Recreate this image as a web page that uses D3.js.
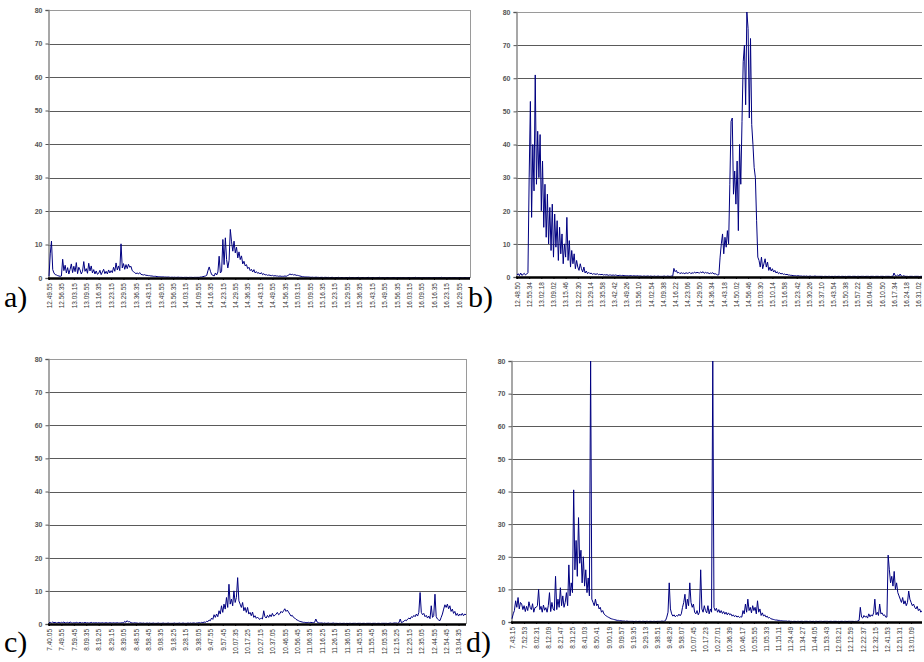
<!DOCTYPE html>
<html>
<head>
<meta charset="utf-8">
<script src="https://cdn.jsdelivr.net/npm/d3@7"></script>
<style>
  html, body { margin: 0; padding: 0; background: #fff; }
  svg { display: block; }
</style>
</head>
<body>
<svg id="chart" width="924" height="662"></svg>
<script>
// ---------------- DATA ----------------
const yTicks = [0, 10, 20, 30, 40, 50, 60, 70, 80];
const samplesPerLabel = 10;

const ticksA = ["12.49.55","12.56.35","13.03.15","13.09.55","13.16.35","13.23.15","13.29.55","13.36.35","13.43.15","13.49.55","13.56.35","14.03.15","14.09.55","14.16.35","14.23.15","14.29.55","14.36.35","14.43.15","14.49.55","14.56.35","15.03.15","15.09.55","15.16.35","15.23.15","15.29.55","15.36.35","15.43.15","15.49.55","15.56.35","16.03.15","16.09.55","16.16.35","16.23.15","16.29.55"];
const ticksB = ["12.48.50","12.55.34","13.02.18","13.09.02","13.15.46","13.22.30","13.29.14","13.35.58","13.42.42","13.49.26","13.56.10","14.02.54","14.09.38","14.16.22","14.23.06","14.29.50","14.36.34","14.43.18","14.50.02","14.56.46","15.03.30","15.10.14","15.16.58","15.23.42","15.30.26","15.37.10","15.43.54","15.50.38","15.57.22","16.04.06","16.10.50","16.17.34","16.24.18","16.31.02"];
const ticksC = ["7.40.05","7.49.55","7.59.45","8.09.35","8.19.25","8.29.15","8.39.05","8.48.55","8.58.45","9.08.35","9.18.25","9.28.15","9.38.05","9.47.55","9.57.45","10.07.35","10.17.25","10.27.15","10.37.05","10.46.55","10.56.45","11.06.35","11.16.25","11.26.15","11.36.05","11.45.55","11.55.45","12.05.35","12.15.25","12.25.15","12.35.05","12.44.55","12.54.45","13.04.35"];
const ticksD = ["7.43.15","7.52.53","8.02.31","8.12.09","8.21.47","8.31.25","8.41.03","8.50.41","9.00.19","9.09.57","9.19.35","9.29.13","9.38.51","9.48.29","9.58.07","10.07.45","10.17.23","10.27.01","10.36.39","10.46.17","10.55.55","11.05.33","11.15.11","11.24.49","11.34.27","11.44.05","11.53.43","12.03.21","12.12.59","12.22.37","12.32.15","12.41.53","12.51.31","13.01.09"];

// one row = one labelled interval (10 samples)
const seriesA = [
  0.5, 7.2, 11, 2.5, 1.5, 1.0, 0.9, 0.7, 0.6, 0.5,
  0.6, 5.6, 2.2, 3.8, 1.5, 3.1, 1.2, 2.6, 4.2, 1.6,
  3.5, 1.9, 4.6, 1.3, 3.2, 2.4, 1.2, 2.0, 4.9, 2.0,
  2.8, 1.4, 4.4, 2.1, 3.6, 1.5, 2.5, 1.2, 2.1, 1.1,
  1.4, 2.3, 1.0, 1.8, 2.6, 1.3, 2.0, 1.2, 2.4, 1.5,
  2.2, 1.6, 3.2, 2.0, 4.5, 2.4, 3.6, 2.2, 10.2, 3.0,
  4.3, 2.6, 4.0, 2.8, 4.1, 3.2, 3.5, 2.2, 1.9, 1.6,
  1.3, 1.5, 1.2, 1.6, 1.1, 1.0, 0.9, 1.0, 0.8, 0.8,
  0.7, 0.7, 0.6, 0.6, 0.5, 0.5, 0.5, 0.4, 0.4, 0.4,
  0.35, 0.3, 0.35, 0.3, 0.3, 0.25, 0.3, 0.25, 0.2, 0.25,
  0.2, 0.25, 0.2, 0.2, 0.25, 0.2, 0.2, 0.2, 0.15, 0.2,
  0.2, 0.2, 0.15, 0.2, 0.2, 0.2, 0.15, 0.2, 0.2, 0.2,
  0.2, 0.2, 0.3, 0.3, 0.4, 0.5, 0.6, 0.8, 2.2, 3.3,
  2.0, 1.0, 0.8, 0.6, 1.5, 0.9, 1.8, 6.5, 1.5, 2.0,
  11.5, 4.0, 12, 5.5, 3.0, 5.2, 14.5, 10.8, 8.0, 11.0,
  7.5, 9.2, 6.0, 7.8, 5.5, 6.6, 4.2, 5.0, 3.6, 4.0,
  2.8, 3.2, 2.2, 2.6, 1.8, 2.5, 1.5, 1.9, 1.4, 1.6,
  1.2, 1.6, 1.0, 1.3, 0.9, 1.0, 0.8, 0.9, 0.8, 0.7,
  0.8, 0.6, 0.7, 0.6, 0.6, 0.5, 0.6, 0.5, 0.5, 0.5,
  0.6, 0.5, 0.7, 0.9, 1.2, 1.0, 1.1, 0.9, 1.0, 0.8,
  0.8, 0.7, 0.6, 0.5, 0.4, 0.4, 0.3, 0.3, 0.3, 0.3,
  0.25, 0.2, 0.25, 0.2, 0.2, 0.25, 0.2, 0.2, 0.15, 0.2,
  0.2, 0.15, 0.2, 0.2, 0.15, 0.2, 0.1, 0.15, 0.2, 0.15,
  0.1, 0.15, 0.1, 0.2, 0.1, 0.1, 0.15, 0.1, 0.1, 0.15,
  0.1, 0.1, 0.2, 0.1, 0.1, 0.15, 0.1, 0.1, 0.1, 0.2,
  0.1, 0.1, 0.1, 0.15, 0.1, 0.1, 0.1, 0.2, 0.1, 0.1,
  0.1, 0.15, 0.1, 0.1, 0.1, 0.1, 0.2, 0.1, 0.1, 0.1,
  0.1, 0.1, 0.15, 0.1, 0.1, 0.1, 0.1, 0.1, 0.15, 0.1,
  0.1, 0.1, 0.1, 0.15, 0.1, 0.1, 0.1, 0.1, 0.1, 0.1,
  0.15, 0.1, 0.1, 0.1, 0.1, 0.2, 0.1, 0.1, 0.1, 0.1,
  0.1, 0.1, 0.1, 0.1, 0.15, 0.1, 0.1, 0.1, 0.1, 0.1,
  0.1, 0.1, 0.15, 0.1, 0.1, 0.1, 0.2, 0.1, 0.1, 0.1,
  0.1, 0.1, 0.1, 0.1, 0.1, 0.15, 0.1, 0.1, 0.1, 0.1,
  0.1, 0.1, 0.1, 0.1, 0.1, 0.1, 0.1, 0.1, 0.1, 0.1
];
const seriesB = [
  0.6, 1.0, 0.4, 1.2, 0.5, 0.8, 1.1, 0.6, 0.9, 1.3,
  30, 53, 18, 40, 26, 61, 28, 44, 30, 43,
  20, 35, 15, 28, 12, 25, 10, 21, 8, 22,
  6, 19, 9, 17, 5, 15, 7, 13, 4, 10,
  6, 18, 5, 11, 3, 8, 4, 7, 2.5, 5,
  3, 2, 4, 2.5, 1.5, 3, 1.2, 1.8, 1.0, 1.4,
  1.0, 1.2, 0.8, 1.0, 0.9, 0.8, 1.0, 0.7, 0.8, 0.7,
  0.8, 0.6, 0.7, 0.6, 0.7, 0.5, 0.6, 0.6, 0.5, 0.6,
  0.5, 0.6, 0.5, 0.4, 0.5, 0.5, 0.4, 0.5, 0.4, 0.4,
  0.4, 0.4, 0.3, 0.4, 0.4, 0.3, 0.4, 0.3, 0.3, 0.4,
  0.3, 0.3, 0.3, 0.2, 0.3, 0.3, 0.2, 0.3, 0.3, 0.2,
  0.3, 0.2, 0.2, 0.3, 0.2, 0.2, 0.3, 0.2, 0.2, 0.2,
  0.2, 0.3, 0.2, 0.2, 0.3, 0.2, 0.2, 0.3, 0.2, 2.6,
  1.6, 2.0, 1.2, 1.4, 1.0, 1.3, 1.1, 1.2, 1.0, 1.3,
  1.1, 1.2, 1.4, 1.0, 1.3, 1.1, 1.5, 1.2, 1.4, 1.3,
  1.2, 1.5, 1.3, 1.6, 1.1, 1.4, 1.2, 1.3, 1.0, 1.2,
  1.1, 1.3, 0.9, 1.0, 0.8, 0.6, 0.7, 6, 10, 13,
  7, 12, 9, 14, 10, 28, 47, 48, 25, 32,
  22, 35, 14, 40, 28, 47, 65, 70, 52, 80,
  75, 48, 72, 46, 40, 33, 30, 17, 6, 5,
  3, 6, 2.5, 4, 5.5, 3, 4.5, 2, 3, 1.8,
  2.5, 1.5, 2, 1.2, 1.6, 1.0, 1.3, 0.9, 1.1, 0.8,
  0.9, 0.7, 0.8, 0.6, 0.6, 0.5, 0.5, 0.4, 0.4, 0.4,
  0.3, 0.4, 0.3, 0.3, 0.3, 0.2, 0.3, 0.2, 0.3, 0.2,
  0.2, 0.3, 0.2, 0.2, 0.2, 0.3, 0.2, 0.2, 0.2, 0.2,
  0.2, 0.2, 0.15, 0.2, 0.2, 0.15, 0.2, 0.2, 0.15, 0.2,
  0.15, 0.2, 0.2, 0.15, 0.2, 0.2, 0.15, 0.2, 0.2, 0.15,
  0.2, 0.15, 0.2, 0.2, 0.2, 0.15, 0.2, 0.2, 0.2, 0.15,
  0.2, 0.2, 0.15, 0.2, 0.2, 0.2, 0.15, 0.2, 0.2, 0.2,
  0.15, 0.2, 0.2, 0.2, 0.15, 0.2, 0.2, 0.2, 0.15, 0.2,
  0.2, 0.2, 0.15, 0.2, 0.2, 0.2, 0.2, 0.15, 0.2, 0.2,
  1.2, 0.4, 0.3, 0.6, 0.3, 0.9, 0.3, 0.2, 0.4, 0.2,
  0.2, 0.2, 0.15, 0.2, 0.2, 0.2, 0.15, 0.2, 0.2, 0.2,
  0.2, 0.15, 0.2, 0.2
];
const seriesC = [
  0.4, 0.5, 0.3, 0.6, 0.4, 0.5, 0.3, 0.4, 0.5, 0.3,
  0.5, 0.4, 0.6, 0.3, 0.4, 0.5, 0.3, 0.6, 0.4, 0.3,
  0.4, 0.3, 0.5, 0.4, 0.3, 0.5, 0.3, 0.4, 0.3, 0.5,
  0.3, 0.4, 0.3, 0.3, 0.5, 0.3, 0.4, 0.3, 0.4, 0.3,
  0.4, 0.3, 0.3, 0.4, 0.3, 0.3, 0.4, 0.3, 0.3, 0.4,
  0.3, 0.3, 0.4, 0.3, 0.3, 0.4, 0.3, 0.3, 0.3, 0.4,
  0.3, 0.8, 0.5, 1.0, 0.6, 0.7, 0.4, 0.3, 0.3, 0.4,
  0.3, 0.3, 0.2, 0.3, 0.3, 0.2, 0.3, 0.2, 0.2, 0.3,
  0.2, 0.3, 0.2, 0.2, 0.3, 0.2, 0.2, 0.2, 0.3, 0.2,
  0.2, 0.2, 0.3, 0.2, 0.2, 0.2, 0.3, 0.2, 0.2, 0.2,
  0.2, 0.3, 0.2, 0.2, 0.2, 0.3, 0.2, 0.2, 0.3, 0.2,
  0.2, 0.2, 0.3, 0.2, 0.3, 0.2, 0.3, 0.3, 0.2, 0.3,
  0.3, 0.4, 0.3, 0.5, 0.4, 0.6, 0.5, 0.8, 0.7, 1.2,
  1.0, 1.8, 1.4, 2.8, 2.0, 3.0, 2.2, 4.0, 3.0, 5.5,
  3.5, 6, 4.5, 8, 5, 12, 6, 7.5, 5.5, 10,
  6.5, 8, 14, 7, 6, 5, 6.5, 4, 5, 3.5,
  5, 3, 3.5, 2.5, 3.6, 2, 2.5, 1.7, 2.1, 1.6,
  1.4, 1.8, 1.5, 4, 2.2, 1.8, 2.6, 2.0, 2.8, 2.2,
  3.2, 2.4, 2.6, 3.0, 3.5, 2.8, 3.1, 3.8, 3.4, 4.0,
  4.6, 3.8, 4.2, 3.6, 3.0, 2.4, 2.6, 2.0, 1.8, 1.4,
  1.2, 1.0, 0.8, 0.7, 0.6, 0.5, 0.5, 0.4, 0.4, 0.5,
  0.4, 0.5, 0.4, 0.4, 0.5, 1.5, 0.6, 0.4, 0.3, 0.3,
  0.3, 0.2, 0.3, 0.2, 0.2, 0.3, 0.2, 0.2, 0.2, 0.3,
  0.2, 0.2, 0.2, 0.15, 0.2, 0.2, 0.15, 0.2, 0.2, 0.15,
  0.2, 0.15, 0.2, 0.2, 0.15, 0.2, 0.2, 0.2, 0.15, 0.2,
  0.2, 0.2, 0.15, 0.2, 0.2, 0.15, 0.2, 0.2, 0.2, 0.2,
  0.15, 0.2, 0.2, 0.2, 0.15, 0.2, 0.2, 0.15, 0.2, 0.2,
  0.2, 0.2, 0.2, 0.15, 0.2, 0.3, 0.2, 0.2, 0.3, 0.3,
  0.3, 0.2, 0.4, 1.5, 0.4, 0.6, 0.8, 1.2, 1.0, 1.5,
  1.8, 1.5, 2.2, 2.0, 2.6, 2.2, 3.0, 2.4, 3.5, 9.5,
  3.5, 2.8, 3.2, 2.2, 2.6, 1.8, 2.4, 1.6, 5.5, 2.0,
  2.5, 9, 2.2, 1.5, 1.2, 1.0, 2.0, 3.0, 4.5, 5.8,
  5.0, 6.0, 4.6, 5.5, 3.8, 4.5, 3.2, 3.8, 2.6, 3.2,
  2.4, 3.0, 2.6, 3.2, 2.5, 3.0, 2.8
];
const seriesD = [
  1, 2.5, 3.5, 6.5, 4.5, 7.5, 4, 6, 5.5, 3.8,
  5, 3.2, 4.8, 3.5, 6.2, 4.5, 3.8, 5.6, 3, 4.4,
  4.5, 5, 10, 3.8, 4.8, 3, 5.2, 3.6, 4.4, 3,
  5, 9, 3.2, 6, 4, 3.5, 14, 3.8, 7, 4.5,
  10.5, 5, 8, 4.5, 6, 9, 5, 17.5, 8, 12,
  9, 40.5, 16, 25, 14, 32, 18, 22, 12, 20,
  11, 16, 9, 13.5, 8, 80, 7, 6, 5, 7,
  5, 5.5, 4, 4.5, 3, 3.5, 2.5, 2.2, 1.8, 1.6,
  1.4, 1.2, 1.0, 0.9, 0.8, 0.7, 0.6, 0.5, 0.5, 0.4,
  0.4, 0.3, 0.3, 0.3, 0.2, 0.3, 0.2, 0.2, 0.2, 0.2,
  0.2, 0.15, 0.2, 0.2, 0.15, 0.2, 0.2, 0.15, 0.2, 0.2,
  0.15, 0.2, 0.2, 0.15, 0.2, 0.2, 0.15, 0.2, 0.2, 0.15,
  0.2, 0.2, 0.2, 0.2, 0.3, 0.2, 0.3, 0.5, 1.5, 3,
  12, 4, 2.5, 1.8, 2.2, 1.6, 2, 1.8, 2.4, 1.9,
  2.5, 4.5, 6, 8.5, 4, 7, 5, 12, 6, 4.5,
  5.5, 3, 2.5, 3.5, 2.2, 3, 16, 4, 3, 5,
  3.5, 2.8, 5, 2.5, 4, 3, 80, 4.5, 3.5, 4.2,
  3, 3.8, 2.8, 3.5, 2.6, 3.2, 2.4, 3, 2.2, 2.8,
  2.2, 2.5, 1.8, 2.2, 1.6, 2, 1.5, 1.8, 1.4, 1.6,
  1.5, 3.5, 2.5, 5.5, 3, 7, 3.5, 4.5, 2.8, 5,
  3.5, 4.5, 2.5, 6.5, 3, 4, 2, 2.8, 1.8, 2.2,
  1.5, 1.8, 1.2, 1.4, 1.0, 0.9, 0.8, 0.7, 0.6, 0.6,
  0.5, 0.5, 0.4, 0.4, 0.3, 0.3, 0.3, 0.3, 0.2, 0.3,
  0.2, 0.2, 0.15, 0.2, 0.2, 0.15, 0.2, 0.2, 0.15, 0.2,
  0.2, 0.15, 0.2, 0.2, 0.2, 0.15, 0.2, 0.2, 0.15, 0.2,
  0.15, 0.2, 0.2, 0.15, 0.2, 0.2, 0.2, 0.15, 0.2, 0.2,
  0.2, 0.2, 0.15, 0.2, 0.2, 0.15, 0.2, 0.2, 0.2, 0.15,
  0.2, 0.15, 0.2, 0.2, 0.15, 0.2, 0.2, 0.15, 0.2, 0.2,
  0.2, 0.2, 0.2, 0.15, 0.2, 0.2, 0.3, 0.5, 4.5, 1.5,
  1.2, 2, 1.5, 1.8, 1.2, 2.5, 1.6, 2.2, 1.8, 2.8,
  7, 2.2, 3, 2, 5.5, 2.5, 2.8, 2, 2.2, 1.5,
  1.5, 20.5, 16, 12, 14, 11, 15.5, 10, 12, 9,
  8, 7, 6, 7.5, 5.5, 6.5, 5, 6, 9.5, 7,
  6, 5, 5.5, 4.5, 4, 4.8, 3.5, 4, 3, 3.5
];

// ---------------- LAYOUT ----------------
const panels = [
  { label: "a)", series: seriesA, ticks: ticksA, x0: 48,  x1: 470, yT: 10,  yB: 278, lx: 4,   ly: 307, rightBorder: true },
  { label: "b)", series: seriesB, ticks: ticksB, x0: 516, x1: 922, yT: 12,  yB: 277, lx: 468, ly: 307, rightBorder: false },
  { label: "c)", series: seriesC, ticks: ticksC, x0: 48,  x1: 466, yT: 359, yB: 624, lx: 4,   ly: 652, rightBorder: true },
  { label: "d)", series: seriesD, ticks: ticksD, x0: 511, x1: 922, yT: 361, yB: 622, lx: 466, ly: 652, rightBorder: false }
];

const svg = d3.select("#chart");

panels.forEach((p, pi) => {
  const x = d3.scaleLinear().domain([0, p.series.length - 1]).range([p.x0 + 1, p.x1]);
  const y = d3.scaleLinear().domain([0, 80]).range([p.yB, p.yT]);
  const g = svg.append("g");

  // gridlines
  g.append("g").selectAll("line").data(yTicks.filter(t => t > 0)).join("line")
    .attr("x1", p.x0).attr("x2", p.x1)
    .attr("y1", d => Math.round(y(d)) + 0.5).attr("y2", d => Math.round(y(d)) + 0.5)
    .attr("stroke", d => d === 80 ? "#9a9a9a" : "#5a5a5a")
    .attr("stroke-width", 1);

  if (p.rightBorder) {
    g.append("line").attr("x1", p.x1 + 0.5).attr("x2", p.x1 + 0.5)
      .attr("y1", y(80)).attr("y2", y(0)).attr("stroke", "#9a9a9a").attr("stroke-width", 1);
  }

  // y axis
  const yAxis = d3.axisLeft(y).tickValues(yTicks).tickSize(3).tickPadding(3);
  const ya = g.append("g").attr("transform", `translate(${p.x0 + 0.5},0)`).call(yAxis);
  ya.select(".domain").attr("stroke", "#8a8a8a").attr("stroke-width", 1.5);
  ya.selectAll(".tick line").attr("stroke", "#555");
  ya.selectAll(".tick text").attr("font-family", "Liberation Sans, Arial, sans-serif")
    .attr("font-size", 7).attr("font-weight", "bold").attr("fill", "#555");

  const clipId = "clip" + pi;
  svg.append("clipPath").attr("id", clipId).append("rect")
    .attr("x", p.x0).attr("y", p.yT).attr("width", p.x1 - p.x0).attr("height", p.yB - p.yT + 1);

  const line = d3.line().x((d, i) => x(i)).y(d => y(d));
  g.append("path").datum(p.series)
    .attr("clip-path", `url(#${clipId})`)
    .attr("d", line).attr("fill", "none")
    .attr("stroke", "#000080").attr("stroke-width", 1);

  // x axis: category labels every samplesPerLabel samples
  const tickIdx = p.ticks.map((t, i) => i * samplesPerLabel);
  const xAxis = d3.axisBottom(x).tickValues(tickIdx)
    .tickFormat((d, i) => p.ticks[i]).tickSize(2).tickPadding(2);
  const xa = g.append("g").attr("transform", `translate(0,${p.yB})`).call(xAxis);
  xa.select(".domain").remove();
  xa.selectAll(".tick line").attr("stroke", "#000");
  xa.selectAll(".tick text")
    .attr("font-family", "Liberation Sans, Arial, sans-serif")
    .attr("font-size", 6.5).attr("fill", "#333")
    .attr("text-anchor", "end")
    .attr("transform", "rotate(-90)")
    .attr("x", -5).attr("y", 0).attr("dy", "0.35em");

  g.append("line").attr("x1", p.x0).attr("x2", p.x1)
    .attr("y1", y(0) + 0.5).attr("y2", y(0) + 0.5)
    .attr("stroke", "#000").attr("stroke-width", 2.5);

  svg.append("text").attr("x", p.lx).attr("y", p.ly)
    .attr("font-family", "Liberation Serif, Times New Roman, serif")
    .attr("font-size", 30).attr("fill", "#000").text(p.label);
});
</script>
</body>
</html>
